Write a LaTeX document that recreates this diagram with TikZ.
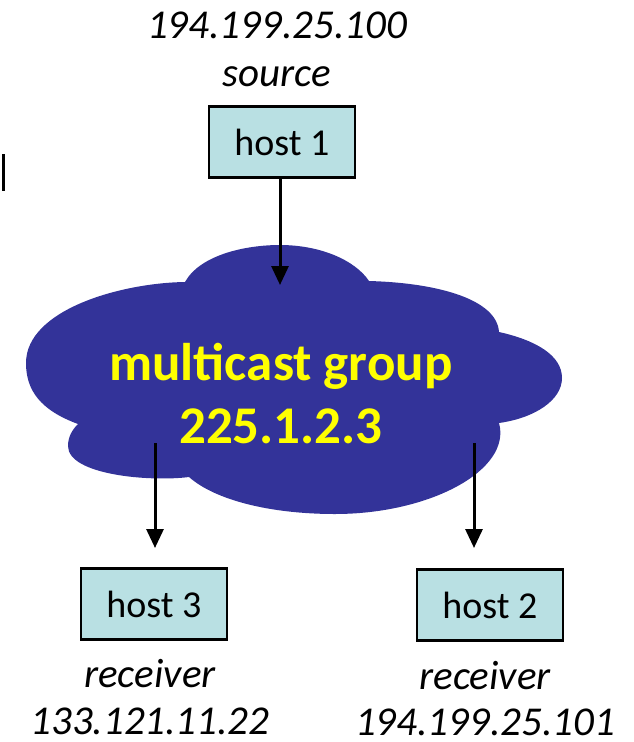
\documentclass[tikz,border=0pt]{standalone}
\usepackage{fontspec}
\setmainfont{Carlito}
\usetikzlibrary{arrows.meta}
\definecolor{hostfill}{RGB}{185,224,227}
\definecolor{cloudblue}{RGB}{51,51,153}
\definecolor{txtyellow}{RGB}{255,255,0}
\begin{document}
\begin{tikzpicture}[x=1pt,y=-1pt,
  hostbox/.style={draw=black,line width=2.5pt,fill=hostfill,minimum width=146pt,minimum height=71pt,inner sep=0pt,font=\fontsize{38}{44}\selectfont},
  lbl/.style={font=\fontsize{41}{46}\selectfont\itshape,inner sep=0pt,anchor=base},
  grp/.style={font=\fontsize{53}{60}\selectfont\bfseries,text=txtyellow,inner sep=0pt,anchor=base},
  arr/.style={line width=3pt,-{Triangle[length=19pt,width=17pt]}}]
\useasboundingbox (0,0) rectangle (634,742);
% stray mark
\draw[line width=3pt] (3.2,154) -- (3.2,191);
% cloud
\fill[cloudblue] (185,282) .. controls (200,255) and (245,245) .. (280,245)
  .. controls (320,245) and (355,260) .. (369,281)
  .. controls (440,283) and (497,300) .. (499,332)
  .. controls (535,340) and (562,355) .. (562,378)
  .. controls (562,400) and (535,418) .. (499,423)
  .. controls (512,470) and (430,514) .. (335,514)
  .. controls (270,514) and (215,500) .. (189,477)
  .. controls (150,482) and (68,475) .. (68,446)
  .. controls (68,437) and (72,430) .. (78,424)
  .. controls (40,410) and (26,390) .. (26,363)
  .. controls (26,310) and (120,283) .. (185,282) -- cycle;
\node[grp] (g1) at (281,380) {multicast group};
\node[grp] (g2) at (281,443) {225.1.2.3};
% hosts
\node[hostbox] (h1) at (282,142) {host 1};
\node[hostbox] (h3) at (154,604) {host 3};
\node[hostbox] (h2) at (490,605) {host 2};
% labels
\node[lbl] (ip1) at (277,38) {194.199.25.100};
\node[lbl] (src) at (277,86) {source};
\node[lbl] (r3) at (150,687) {receiver};
\node[lbl] (ip3) at (150,734) {133.121.11.22};
\node[lbl] (r2) at (485,689) {receiver};
\node[lbl] (ip2) at (485,735) {194.199.25.101};
% arrows
\coordinate (t1) at (280,285);
\coordinate (s3) at (155,443);
\coordinate (e3) at (155,548);
\coordinate (s2) at (474,443);
\coordinate (e2) at (474,548);
\draw[arr] (h1.south -| t1) -- (t1);
\draw[arr] (s3) -- (e3);
\draw[arr] (s2) -- (e2);
\end{tikzpicture}
\end{document}
